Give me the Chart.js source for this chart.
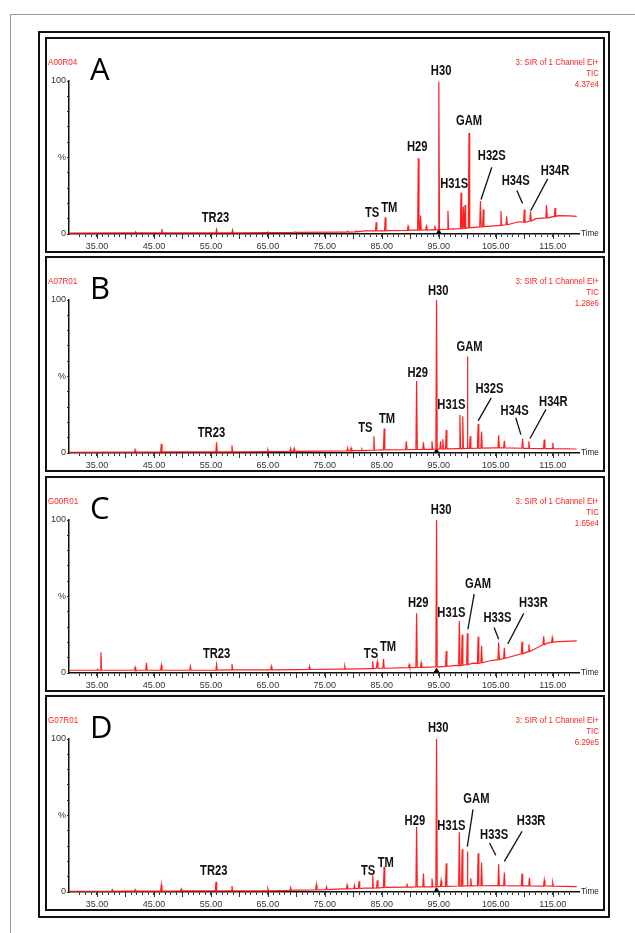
<!DOCTYPE html>
<html>
<head>
<meta charset="utf-8">
<script src="https://cdn.jsdelivr.net/npm/chart.js@4.4.1/dist/chart.umd.min.js"></script>
<style>
  body { margin: 0; width: 635px; height: 933px; overflow: hidden; background: #fff; position: relative; }
  #gray { position: absolute; left: 10px; top: 14px; width: 700px; height: 1000px; border-left: 1px solid #9a9a9a; border-top: 1px solid #9a9a9a; }
  #frame { position: absolute; left: 38px; top: 31px; width: 572px; height: 887px; border: 2px solid #111; box-sizing: border-box; }
  .panel { position: absolute; left: 45px; width: 560px; height: 216px; border: 2px solid #111; box-sizing: border-box; background: #fff; }
  .panel canvas { position: absolute; left: 0; top: 0; }
</style>
</head>
<body>
<div id="gray"></div>
<div id="frame"></div>
<div class="panel" style="top:37px"><canvas id="cA" width="556" height="212"></canvas></div>
<div class="panel" style="top:256px"><canvas id="cB" width="556" height="212"></canvas></div>
<div class="panel" style="top:476px"><canvas id="cC" width="556" height="212"></canvas></div>
<div class="panel" style="top:695px"><canvas id="cD" width="556" height="212"></canvas></div>
<script>
'use strict';

// retention time axis (minutes)
const xMin = 30.1;
const xMax = 119.6;

const sampleIds = ['A00R04', 'A07R01', 'G00R01', 'G07R01'];
const panelLetters = ['A', 'B', 'C', 'D'];
const intensities = ['4.37e4', '1.28e6', '1.65e4', '6.29e5'];

// baseline level [time, %]
const baseA = [[30.1,0.6],[40,0.7],[50,0.8],[60,0.8],[70,1],[78,1.2],[82,2],[86,2.2],[90,2.5],[94,2.8],[97,3.2],[100,4],[103,4.8],[106,6],[109,8],[112,10],[114,11.5],[116,12],[118,11.8],[119.2,11.5]];
const baseB = [[30.1,0.5],[40,0.6],[50,0.8],[60,0.8],[70,1],[80,1.5],[85,2],[90,2.3],[95,2.5],[100,3],[105,3.3],[110,3],[115,2.8],[119.2,2.6]];
const baseC = [[30.1,1.8],[40,1.8],[50,1.8],[60,2],[70,2.2],[78,2.5],[84,3],[90,3.5],[95,4],[98,5],[101,6.5],[104,8],[107,10],[110,13],[112,16],[114,19.5],[116,20.5],[119.2,21]];
const baseD = [[30.1,0.5],[40,0.6],[50,0.7],[60,0.8],[70,1.2],[78,2],[82,2.5],[86,3],[90,3.2],[95,3.5],[100,4],[105,4.2],[110,4],[115,3.8],[119.2,3.5]];

// peaks [time, apex %, foot %]
const peaksA = [[41.8,1.5,0.7],[46.4,3.3,0.7],[56.0,3.0,0.8],[58.8,2.6,0.8],[65.0,1.3,0.9],[69.7,1.4,1],[79.0,1.8,1.2],[80.5,2,1.4],[84.0,7.7,2],[85.6,11,2.1],[89.6,5,2.4],[91.4,49.5,2.5],[91.8,12,2.5],[92.8,5,2.6],[94.3,5.5,2.7],[95.0,99.5,2.8],[96.6,15,3.1],[98.9,27,3.5],[99.3,18,3.6],[99.6,19,3.7],[100.3,66,4],[102.3,21.5,4.6],[102.8,16,4.7],[105.9,15,5.6],[106.9,11.5,6],[110.0,16,7.7],[111.1,14.5,8.5],[113.9,19,10.5],[115.4,17,11.5]];
const peaksB = [[41.7,2.2,0.6],[46.3,6,0.7],[56.0,7,0.8],[58.7,5,0.8],[65.0,2.2,0.9],[69.0,3,1],[69.6,3,1],[79.0,3.3,1.4],[79.6,3.3,1.4],[81.5,2.5,1.6],[83.6,11,1.8],[85.4,16,2],[89.3,7.7,2.2],[91.1,47,2.3],[92.3,7,2.4],[93.8,7.7,2.4],[94.6,100,2.5],[95.3,7.7,2.6],[95.7,9,2.6],[96.3,15,2.7],[98.7,25,2.9],[99.2,24,2.9],[100.0,63,3],[100.5,11,3],[101.9,19,3.1],[102.5,14,3.2],[105.5,11.6,3.3],[106.5,8,3.3],[109.7,9.5,3.1],[110.8,7.7,3],[113.5,8.8,2.9],[115.0,6.6,2.8]];
const peaksC = [[35.1,2.5,1.8],[35.7,13.6,1.8],[41.7,3.7,1.8],[43.7,6.6,1.8],[46.3,5,1.8],[51.4,4.4,1.8],[56.0,5.5,1.9],[58.7,6,2],[65.6,4.4,2.1],[72.3,4.4,2.3],[78.5,4.4,2.5],[83.4,7.7,2.9],[84.2,7.2,3],[85.3,9.2,3.1],[89.8,5.5,3.5],[91.1,39,3.6],[91.9,6.6,3.7],[94.6,100,4],[96.3,14.3,4.3],[98.6,34,4.8],[99.1,25,5],[100.0,26,5.5],[101.9,23.7,6.3],[102.5,17.6,6.7],[105.5,20,8.7],[106.5,16.5,9.5],[109.6,20.4,12.5],[110.8,18.7,14],[113.4,24,18.5],[114.9,23,20]];
const peaksD = [[37.7,1.5,0.5],[41.7,1.5,0.6],[46.3,4.8,0.6],[49.8,2,0.7],[55.9,6.6,0.7],[58.7,4,0.8],[65.0,2.2,0.8],[69.0,2.9,1.1],[73.5,4.8,1.4],[75.3,3.3,1.6],[78.9,4.4,2],[80.2,4.4,2.2],[81.0,7,2.3],[83.4,11,2.5],[84.2,7.7,2.6],[85.4,16.5,3],[89.4,5.5,3.2],[91.1,42.4,3.3],[92.3,12,3.3],[93.8,8.8,3.4],[94.6,100,3.5],[95.4,7.5,3.6],[96.3,18.7,3.7],[98.6,39,3.9],[99.1,28,3.9],[100.0,26.4,4],[100.6,9,4],[101.9,25.3,4.1],[102.5,19.3,4.1],[105.5,18.2,4.2],[106.5,12.7,4.2],[109.6,12,4],[110.9,9.2,4],[113.5,7.7,3.9],[115.0,6,3.8]];

// little black marker at the H30 foot
const markers = [[95.0,1.2],[94.6,1.2],[94.6,1.5],[94.6,1.2]];

// peak names [text, time, %] (text centre)
const namesA = [['TR23',55.8,10.4],['TS',83.3,13.7],['TM',86.3,17],['H29',91.2,57],['H30',95.4,106.6],['H31S',97.7,32.5],['GAM',100.3,74],['H32S',104.3,51],['H34S',108.5,34.7],['H34R',115.4,41]];
const namesB = [['TR23',55.1,13],['TS',82.1,16.5],['TM',85.9,22],['H29',91.3,52],['H30',94.9,106],['H31S',97.2,31],['GAM',100.4,69],['H32S',103.9,42],['H34S',108.3,27.5],['H34R',115.1,33]];
const namesC = [['TR23',56.0,12.5],['TS',83.1,12.5],['TM',86.1,17],['H29',91.4,45.5],['H30',95.4,106.6],['H31S',97.2,39],['GAM',101.9,58],['H33S',105.3,36],['H33R',111.6,45.5]];
const namesD = [['TR23',55.5,13.8],['TS',82.6,13.6],['TM',85.7,18.7],['H29',90.8,46],['H30',94.9,107],['H31S',97.2,43],['GAM',101.6,61],['H33S',104.7,37],['H33R',111.2,46]];

// leader lines [t1, %1, t2, %2]
const leadersA = [[104.3,43.6,102.4,22.6],[108.7,28.5,109.7,20],[114.1,36,111.1,15]];
const leadersB = [[104.2,36,101.9,21],[108.5,23,109.4,12],[113.8,28.5,111.0,9.5]];
const leadersC = [[101.2,51.6,100.1,28.6],[104.7,29.7,105.5,22],[109.9,39,107.1,19]];
const leadersD = [[101.0,54,100.0,29.7],[103.9,32,105.0,24],[109.6,39.6,106.5,20]];

const SANS = "'Liberation Sans', Arial, sans-serif";
const RED = '#ff1f1f';

const buildSeries = function(base, peaks) {
  let pts = base.map(p => ({x: p[0], y: p[1]}));
  for (let i = 0; i < peaks.length; i++) {
    let pk = peaks[i];
    pts.push({x: pk[0] - 0.12, y: pk[2]});
    pts.push({x: pk[0], y: pk[1]});
    pts.push({x: pk[0] + 0.12, y: pk[2]});
  }
  pts.sort((a, b) => a.x - b.x);
  return pts;
};

// squeezed text, like Arial Narrow
const narrowText = function(ctx, txt, px, py, sx) {
  ctx.save();
  ctx.translate(px, py);
  ctx.scale(sx, 1);
  ctx.fillText(txt, 0, 0);
  ctx.restore();
};

const decor = {
  id: 'decor',
  afterDraw(chart, args, o) {
    const ctx = chart.ctx;
    const x = chart.scales.x;
    const y = chart.scales.y;
    ctx.save();

    // longer ticks every 5 min
    ctx.strokeStyle = '#333';
    ctx.lineWidth = 1;
    for (let t = 35; t <= 115; t += 5) {
      let px = Math.round(x.getPixelForValue(t)) + 0.5;
      ctx.beginPath();
      ctx.moveTo(px, y.bottom);
      ctx.lineTo(px, y.bottom + 5);
      ctx.stroke();
    }

    // "Time"
    ctx.fillStyle = '#222';
    ctx.font = '9px ' + SANS;
    ctx.textBaseline = 'middle';
    ctx.textAlign = 'left';
    narrowText(ctx, 'Time', x.right + 2, y.bottom, 0.9);

    // red header texts
    ctx.fillStyle = RED;
    narrowText(ctx, o.id, 1, 24, 0.9);
    ctx.textAlign = 'right';
    narrowText(ctx, '3: SIR of 1 Channel EI+', 552, 24, 0.88);
    narrowText(ctx, 'TIC', 552, 35, 0.88);
    narrowText(ctx, o.intensity, 552, 46, 0.88);

    // panel letter
    ctx.fillStyle = '#000';
    ctx.textAlign = 'left';
    ctx.textBaseline = 'alphabetic';
    ctx.font = "31px 'Open Sans', 'Liberation Sans', sans-serif";
    ctx.fillText(o.letter, 43, 41);

    // leader lines
    ctx.strokeStyle = '#111';
    ctx.lineWidth = 1.3;
    o.leaders.forEach(l => {
      ctx.beginPath();
      ctx.moveTo(x.getPixelForValue(l[0]), y.getPixelForValue(l[1]));
      ctx.lineTo(x.getPixelForValue(l[2]), y.getPixelForValue(l[3]));
      ctx.stroke();
    });

    // peak names
    ctx.font = 'bold 14px ' + SANS;
    ctx.textAlign = 'center';
    ctx.textBaseline = 'middle';
    ctx.fillStyle = '#111';
    o.names.forEach(n => {
      narrowText(ctx, n[0], x.getPixelForValue(n[1]), y.getPixelForValue(n[2]), 0.8);
    });
    ctx.restore();
  }
};

const createChart = function(canvasId, i, base, peaks, names, leaders) {
  return new Chart(document.getElementById(canvasId), {
    type: 'line',
    data: {
      datasets: [{
        data: buildSeries(base, peaks),
        borderColor: RED,
        borderWidth: 1.2,
        pointRadius: 0,
        tension: 0
      }, {
        data: [{x: markers[i][0], y: markers[i][1]}],
        showLine: false,
        pointStyle: 'triangle',
        pointRadius: 2.5,
        backgroundColor: '#000',
        borderColor: '#000'
      }]
    },
    options: {
      responsive: false,
      animation: false,
      events: [],
      layout: { padding: { top: 42, right: 24, left: 0, bottom: 0 } },
      plugins: {
        legend: { display: false },
        tooltip: { enabled: false },
        decor: { id: sampleIds[i], letter: panelLetters[i], intensity: intensities[i], names: names, leaders: leaders }
      },
      scales: {
        x: {
          type: 'linear',
          min: xMin,
          max: xMax,
          afterFit: s => { s.height = 17; },
          afterBuildTicks: s => { s.ticks = s.ticks.filter(t => Number.isInteger(t.value)); },
          ticks: {
            stepSize: 1,
            autoSkip: false,
            maxRotation: 0,
            padding: 4,
            color: '#333',
            font: { family: SANS, size: 9 },
            callback: v => ((v - 35) % 10 === 0 ? v.toFixed(2) : '')
          },
          grid: { drawOnChartArea: false, tickLength: 3, tickColor: '#333' },
          border: { color: '#111', width: 1.5 }
        },
        y: {
          min: 0,
          max: 100,
          afterFit: s => { s.width = 22; },
          ticks: {
            stepSize: 10,
            autoSkip: false,
            padding: 1,
            color: '#333',
            font: { family: SANS, size: 9 },
            callback: v => (v === 100 ? '100' : v === 50 ? '%' : v === 0 ? '0' : '')
          },
          grid: { drawOnChartArea: false, tickLength: 2, tickColor: '#333' },
          border: { color: '#111', width: 1.5 }
        }
      }
    },
    plugins: [decor]
  });
};

createChart('cA', 0, baseA, peaksA, namesA, leadersA);
createChart('cB', 1, baseB, peaksB, namesB, leadersB);
createChart('cC', 2, baseC, peaksC, namesC, leadersC);
createChart('cD', 3, baseD, peaksD, namesD, leadersD);
</script>
</body>
</html>
